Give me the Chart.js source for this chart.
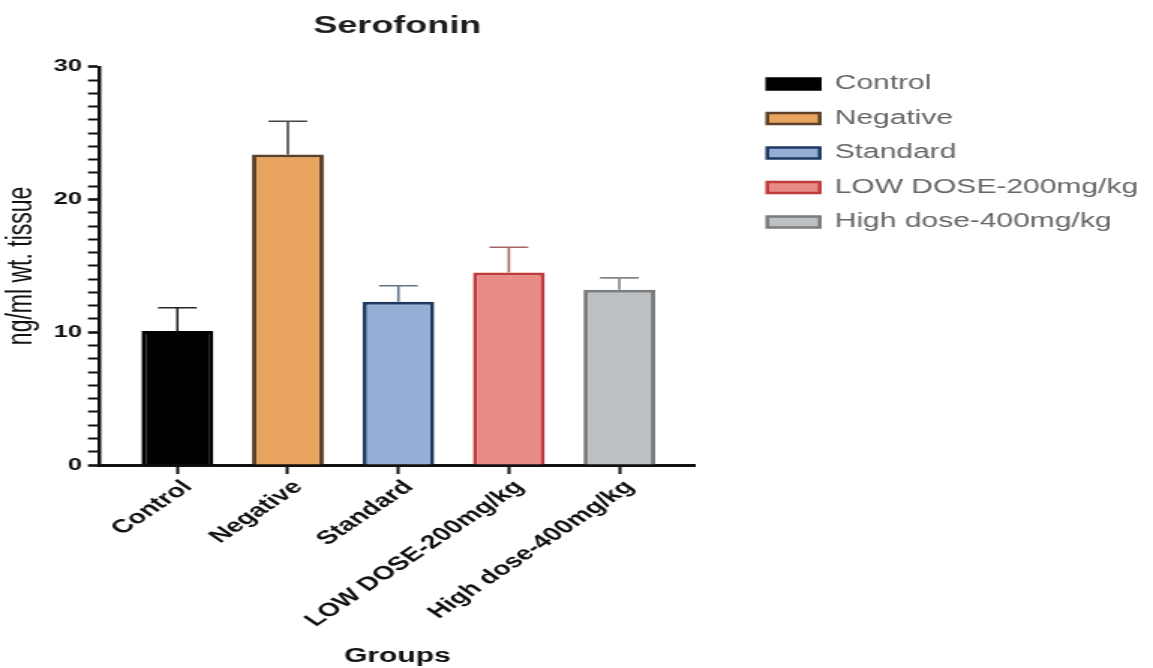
<!DOCTYPE html>
<html>
<head>
<meta charset="utf-8">
<title>Serofonin</title>
<script src="https://cdn.jsdelivr.net/npm/chart.js@4.4.1/dist/chart.umd.min.js"></script>
<style>
  html, body { margin: 0; padding: 0; background: #ffffff; }
  #chart { display: block; }
</style>
</head>
<body>
<!-- drawn on a narrower bitmap and widened by CSS, giving the wide lettering of the figure -->
<canvas id="chart" width="769" height="668" style="width:1153px;height:668px"></canvas>
<script>
// ---- data ----
const categories = ['Control', 'Negative', 'Standard', 'LOW DOSE-200mg/kg', 'High dose-400mg/kg'];
const means = [10.1, 23.4, 12.3, 14.5, 13.2];
const errors = [1.75, 2.5, 1.2, 1.9, 0.9];
const yTickLabels = [0, 10, 20, 30];

// ---- styles ----
const FONT = "'Liberation Sans', Arial, Helvetica, sans-serif";
const fills = ['#000000', '#e9a45f', '#94aed6', '#e98c88', '#bdc0c2'];
const edges = ['#000000', '#5c4028', '#1f3a62', '#c23b3b', '#7a7b7c'];
const whiskers = ['#262626', '#474747', '#607087', '#a46464', '#858687'];

Chart.defaults.font.family = FONT;

// upward SEM whiskers with a cap, placed through the y scale
const errorBars = {
  id: 'errorBars',
  afterDatasetsDraw(chart) {
    const meta = chart.getDatasetMeta(0);
    const yScale = chart.scales.y;
    const ctx = chart.ctx;
    ctx.save();
    ctx.lineCap = 'butt';
    meta.data.forEach((bar, i) => {
      const top = yScale.getPixelForValue(means[i] + errors[i]);
      const half = bar.width * 0.27;
      ctx.strokeStyle = whiskers[i];
      ctx.lineWidth = 1.6;
      ctx.beginPath();
      ctx.moveTo(bar.x, bar.y);
      ctx.lineTo(bar.x, top);
      ctx.moveTo(bar.x - half, top);
      ctx.lineTo(bar.x + half, top);
      ctx.stroke();
    });
    ctx.restore();
  }
};

new Chart(document.getElementById('chart'), {
  type: 'bar',
  data: {
    datasets: [{
      data: means.map((v, i) => ({ x: i, y: v })),
      backgroundColor: fills,
      borderColor: edges,
      borderWidth: 3,
      borderSkipped: 'start',
      barPercentage: 0.65,
      categoryPercentage: 1
    }]
  },
  options: {
    responsive: false,
    devicePixelRatio: 1,
    animation: false,
    layout: { padding: { top: 0, right: 0, bottom: 0, left: 0 } },
    plugins: {
      title: {
        display: true,
        text: 'Serofonin',
        fullSize: false,
        color: '#1e1e1e',
        font: { size: 24, weight: 'bold' },
        padding: { top: 12, bottom: 26 }
      },
      legend: {
        position: 'right',
        align: 'start',
        fullSize: true,
        maxWidth: 340,
        title: { display: true, text: '', font: { size: 12 }, padding: { top: 45, bottom: 0 } },
        labels: {
          boxWidth: 35,
          boxHeight: 11,
          padding: 14.5,
          color: '#222222',
          font: { size: 20 },
          generateLabels: () => categories.map((c, i) => ({
            text: c,
            fillStyle: fills[i],
            strokeStyle: edges[i],
            lineWidth: 2.5,
            hidden: false,
            index: i,
            datasetIndex: 0
          }))
        },
        onClick: () => {}
      },
      tooltip: { enabled: false }
    },
    scales: {
      x: {
        type: 'linear',
        min: -0.7,
        max: 4.68,
        offset: false,
        afterBuildTicks: (s) => { s.ticks = categories.map((_, i) => ({ value: i })); },
        afterFit: (s) => { s.height = 203; },
        ticks: {
          autoSkip: false,
          minRotation: 45,
          maxRotation: 45,
          padding: 2,
          labelOffset: 7,
          color: '#111111',
          font: { size: 19, weight: 'bold' },
          callback: (v) => categories[v] ?? ''
        },
        grid: { offset: false, drawOnChartArea: false, drawTicks: true, tickLength: 9, tickWidth: 2, tickColor: '#111111' },
        border: { display: true, color: '#111111', width: 3 },
        title: {
          display: true,
          text: 'Groups',
          color: '#111111',
          font: { size: 20, weight: 'bold' },
          padding: { top: 0, bottom: 0 }
        }
      },
      y: {
        min: 0,
        max: 30,
        afterFit: (s) => { s.width = 66.7; },
        ticks: {
          stepSize: 1,
          autoSkip: false,
          padding: 4,
          color: '#111111',
          font: { size: 17, weight: 'bold' },
          callback: (v) => (yTickLabels.includes(v) ? v : '')
        },
        grid: {
          drawOnChartArea: false,
          tickLength: 8,
          tickColor: '#111111',
          tickWidth: (c) => (yTickLabels.includes(c.tick.value) ? 2.6 : 2)
        },
        border: { display: true, color: '#111111', width: 2.5 },
        title: {
          display: true,
          text: 'ng/ml wt. tissue',
          color: '#111111',
          font: { size: 23 },
          padding: { top: 1, bottom: 0 }
        }
      },
      gap: {
        type: 'linear',
        position: 'right',
        display: true,
        grid: { display: false },
        border: { display: false },
        ticks: { display: false },
        afterFit: (s) => { s.width = 34; }
      }
    }
  },
  plugins: [errorBars]
});
</script>
</body>
</html>
